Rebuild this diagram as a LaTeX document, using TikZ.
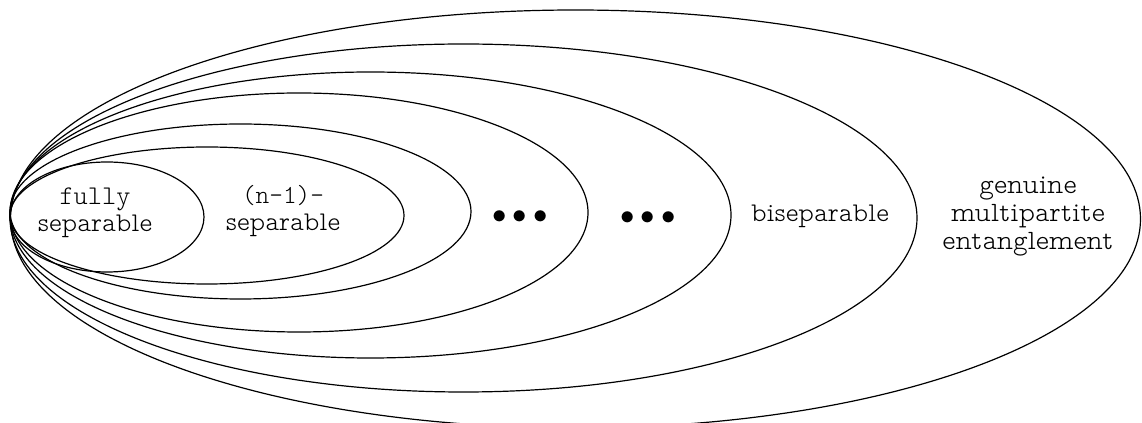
\documentclass[tikz,border=0pt]{standalone}
\usepackage{fontspec}
\newfontfamily\propfont{lmmonoproplt10-regular.otf}
\newfontfamily\ttlight{lmmonolt10-regular.otf}
\tikzset{
  setline/.style={draw=black, line width=0.6pt},
  lbl/.style={align=center, inner sep=0pt,
    font=\fontsize{13.5}{13.5}\propfont},
}
\begin{document}
\begin{tikzpicture}[x=0.5pt,y=0.5pt]
\useasboundingbox (0,0) rectangle (1142,423);
\clip (0,0) rectangle (1142,423);
\draw[setline] (107,206) ellipse [x radius=97, y radius=55];
\draw[setline] (207,207.5) ellipse [x radius=197, y radius=68.5];
\draw[setline] (240.5,211.5) ellipse [x radius=230.5, y radius=87.5];
\draw[setline] (299,210.5) ellipse [x radius=289, y radius=119.5];
\draw[setline] (370.5,208) ellipse [x radius=360.5, y radius=143];
\draw[setline] (463.5,205) ellipse [x radius=453.5, y radius=174];
\draw[setline] (575.5,204) ellipse [x radius=565, y radius=209];
\node[lbl] (fs) at (95,210) {{\ttlight fully}\\separable};
\node[lbl] (ns) at (283,212) {{\fontsize{13}{13}\ttlight (n-1)-}\\separable};
\node[lbl] (d1) at (520,206) {$\bullet\bullet\bullet$};
\node[lbl] (d2) at (648,205) {$\bullet\bullet\bullet$};
\node[lbl] (bs) at (820,207) {biseparable};
\node[lbl, font=\fontsize{14}{14}\propfont] (gme) at (1028,206) {genuine\\multipartite\\entanglement};
\end{tikzpicture}
\end{document}
